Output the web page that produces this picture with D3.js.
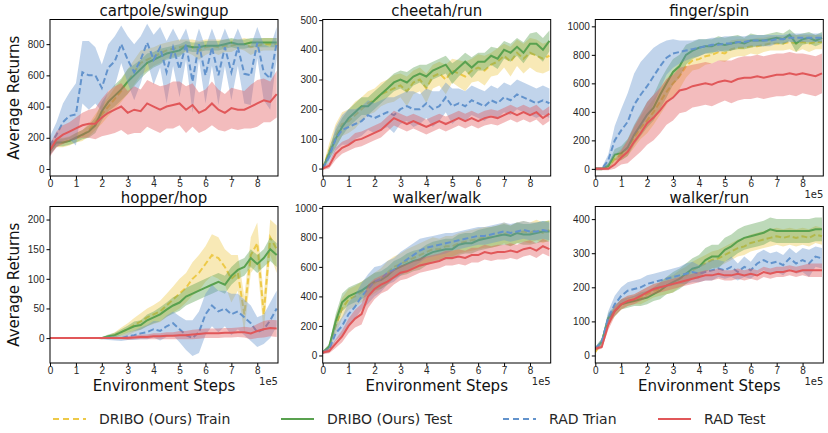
<!DOCTYPE html>
<html>
<head>
<meta charset="utf-8">
<script src="https://d3js.org/d3.v7.min.js"></script>
<style>
body { margin: 0; background: #fff; }
svg { font-family: "DejaVu Sans", sans-serif; }
.axis text { font-size: 10px; fill: #262626; }
.axis line { stroke: #000; }
.title { font-size: 15px; fill: #111; }
.label { font-size: 15px; fill: #111; }
.offset { font-size: 10px; fill: #262626; }
.legend text { font-size: 14px; fill: #262626; }
</style>
</head>
<body>
<svg width="828" height="433"></svg>
<script>
// environment steps, in units of 1e5
var steps = d3.range(0, 8.76, 0.25);

var xTicks = [0, 1, 2, 3, 4, 5, 6, 7, 8];

var seriesNames = ["DRIBO (Ours) Train", "DRIBO (Ours) Test", "RAD Trian", "RAD Test"];
var seriesColors = ["#edc948", "#59a14f", "#6393cc", "#e15759"];
var seriesDashed = [true, false, true, false];

var titles = ["cartpole/swingup", "cheetah/run", "finger/spin", "hopper/hop", "walker/walk", "walker/run"];

// cartpole/swingup
var cartpoleTicks = [0, 200, 400, 600, 800];
var cartpoleDriboTrain = [130,170,170,180,200,215,250,300,350,400,450,500,560,620,680,700,720,740,760,770,780,790,780,760,780,790,780,790,790,800,800,780,790,800,800,800];
var cartpoleDriboTrainSd = [30,30,30,30,30,35,40,50,60,60,70,70,80,80,80,70,60,60,50,50,50,40,50,60,50,40,50,40,40,30,40,50,40,40,40,40];
var cartpoleDriboTest = [120,170,170,180,200,220,240,280,370,430,470,510,560,600,640,680,700,720,740,750,760,790,780,780,790,790,790,800,810,800,800,810,810,810,810,810];
var cartpoleDriboTestSd = [30,25,25,25,30,30,40,50,60,60,70,70,80,70,60,60,50,50,40,40,40,30,30,30,30,30,30,30,30,30,30,30,30,30,30,30];
var cartpoleRadTrain = [150,220,300,340,350,620,600,600,520,650,690,800,700,620,700,810,700,780,620,780,640,800,560,800,600,780,600,780,620,780,610,600,810,620,580,810];
var cartpoleRadTrainSd = [60,80,120,150,200,200,220,180,150,150,160,120,150,180,150,120,160,130,200,120,180,100,200,100,180,120,190,120,180,120,190,190,100,180,200,100];
var cartpoleRadTest = [120,190,220,240,260,280,290,290,330,360,380,400,360,380,370,420,400,380,400,410,420,380,410,360,380,420,380,360,390,380,380,400,420,440,430,480];
var cartpoleRadTestSd = [40,50,60,60,70,80,90,100,120,140,150,150,140,150,140,150,150,150,140,150,140,150,140,130,130,140,130,120,130,130,120,140,150,140,130,150];

// cheetah/run
var cheetahTicks = [0, 100, 200, 300, 400, 500];
var cheetahDriboTrain = [0,60,110,150,160,180,200,220,230,250,260,270,280,260,290,300,270,310,320,300,330,320,310,330,340,330,350,360,380,360,390,370,390,380,370,380];
var cheetahDriboTrainSd = [5,25,40,40,40,45,40,40,40,40,40,45,40,50,40,40,50,40,40,50,40,45,50,40,45,50,40,45,40,50,45,50,50,55,50,50];
var cheetahDriboTest = [0,50,100,140,170,190,210,210,230,250,270,290,300,290,310,320,310,330,340,350,320,340,360,340,360,360,380,370,400,390,410,390,420,420,400,430];
var cheetahDriboTestSd = [5,20,30,30,30,30,30,30,30,30,30,30,30,35,30,30,40,30,30,30,35,30,30,35,30,30,30,35,30,30,30,35,35,40,40,35];
var cheetahRadTrain = [0,40,100,130,140,150,160,180,170,180,190,180,200,210,200,200,220,200,210,240,210,220,210,230,220,210,230,220,240,230,250,240,230,220,230,220];
var cheetahRadTrainSd = [5,20,40,50,60,50,50,50,50,50,50,60,50,50,60,50,50,60,50,50,60,50,50,50,50,50,50,50,50,50,50,50,50,50,50,50];
var cheetahRadTest = [0,10,50,70,80,95,100,110,120,130,150,170,160,150,160,150,140,150,160,150,160,170,160,170,160,170,175,170,180,190,180,190,180,190,170,185];
var cheetahRadTestSd = [5,10,20,20,20,25,25,25,25,25,25,25,25,25,25,25,25,25,25,25,25,25,25,25,25,25,25,25,25,25,25,25,25,25,25,25];

// finger/spin
var fingerTicks = [0, 200, 400, 600, 800, 1000];
var fingerDriboTrain = [0,0,20,70,100,150,220,290,340,400,470,540,600,650,720,760,770,790,800,820,810,840,850,850,860,860,870,880,880,880,890,880,890,880,890,890];
var fingerDriboTrainSd = [10,10,20,30,40,60,70,80,90,90,90,90,90,90,80,70,70,60,60,60,60,60,60,60,50,60,50,50,50,50,50,60,50,60,50,50];
var fingerDriboTest = [0,0,20,100,110,150,240,310,380,430,520,600,680,720,800,830,850,860,860,880,870,880,890,880,900,900,900,910,920,910,940,880,910,920,900,920];
var fingerDriboTestSd = [10,10,20,40,50,60,70,80,90,90,100,100,90,80,70,60,60,50,50,50,50,50,50,40,50,40,40,40,40,40,40,60,40,40,40,40];
var fingerRadTrain = [0,0,60,200,270,330,450,520,580,650,720,780,810,820,830,840,850,860,870,870,880,880,890,890,900,900,900,900,910,910,920,920,920,920,920,920];
var fingerRadTrainSd = [10,10,40,100,150,200,220,230,220,200,160,120,100,80,70,60,60,50,50,50,50,50,40,40,40,40,40,40,30,30,30,30,30,30,30,30];
var fingerRadTest = [0,0,0,30,80,120,190,250,320,360,410,470,500,550,560,580,590,600,590,610,620,610,630,640,640,650,640,650,660,660,670,660,670,660,650,670];
var fingerRadTestSd = [10,10,10,30,50,80,110,130,150,160,160,160,160,160,160,150,150,150,150,150,140,150,150,150,150,150,150,150,150,150,150,150,140,140,140,140];

// hopper/hop
var hopperTicks = [0, 50, 100, 150, 200];
var hopperDriboTrain = [0,0,0,0,0,0,0,0,0,2,5,10,15,22,28,35,40,45,55,65,75,85,100,110,125,140,135,120,100,110,40,140,160,40,170,150];
var hopperDriboTrainSd = [1,1,1,1,1,1,1,1,2,3,5,8,10,12,14,15,16,18,20,22,25,25,28,30,30,35,35,30,40,30,30,30,35,30,30,40];
var hopperDriboTest = [0,0,0,0,0,0,0,0,0,3,5,10,15,20,22,30,35,40,48,55,60,70,75,80,85,90,95,90,105,115,120,135,125,135,150,140];
var hopperDriboTestSd = [1,1,1,1,1,1,1,1,2,3,4,5,6,8,8,10,10,12,12,14,14,15,15,15,15,15,15,15,15,15,15,15,15,15,20,20];
var hopperRadTrain = [0,0,0,0,0,0,0,0,0,0,0,0,3,5,8,10,15,12,20,25,15,5,0,10,40,55,45,50,40,45,35,25,10,15,30,50];
var hopperRadTrainSd = [1,1,1,1,1,1,1,1,2,3,4,5,6,8,10,12,14,16,18,20,22,25,30,35,35,35,35,30,35,30,30,30,25,25,30,30];
var hopperRadTest = [0,0,0,0,0,0,0,0,0,0,0,0,0,1,2,2,3,3,4,4,5,5,6,7,8,8,8,9,9,10,10,8,12,15,17,16];
var hopperRadTestSd = [1,1,1,1,1,1,1,1,1,1,2,2,3,3,4,4,5,5,6,6,7,7,8,8,8,8,8,8,8,8,9,10,12,14,14,14];

// walker/walk
var walkTicks = [0, 200, 400, 600, 800, 1000];
var walkDriboTrain = [20,50,200,320,380,400,430,460,490,520,560,600,620,640,660,680,700,720,720,740,740,760,770,780,790,800,800,810,830,810,830,840,830,850,830,850];
var walkDriboTrainSd = [10,20,60,70,70,70,70,70,70,70,80,70,70,80,80,80,80,80,70,70,70,70,70,70,70,70,70,70,70,70,70,70,70,70,70,70];
var walkDriboTest = [20,60,230,360,400,420,440,470,500,510,540,580,600,620,640,650,680,700,710,720,720,750,760,760,780,790,800,810,820,810,830,820,820,830,840,840];
var walkDriboTestSd = [10,20,50,60,60,60,60,60,60,60,60,60,60,70,70,70,70,70,70,70,70,70,70,70,70,70,70,70,70,70,70,70,70,70,70,70];
var walkRadTrain = [20,40,150,200,280,330,400,450,500,520,560,580,620,650,680,710,730,740,750,760,770,780,790,800,810,810,820,830,840,830,840,850,840,840,850,840];
var walkRadTrainSd = [10,20,50,60,80,80,90,100,100,90,80,80,80,80,80,80,70,70,70,70,60,60,60,60,60,60,60,60,60,60,60,60,60,60,60,60];
var walkRadTest = [20,30,80,130,200,250,280,400,450,480,500,530,560,570,590,610,620,630,640,660,660,670,660,680,680,700,690,700,700,710,700,720,730,710,740,720];
var walkRadTestSd = [10,15,30,40,50,60,70,80,70,60,60,50,50,50,50,50,50,50,50,50,50,50,50,50,50,50,50,50,50,50,50,50,50,50,50,50];

// walker/run
var runTicks = [0, 100, 200, 300, 400];
var runDriboTrain = [10,40,100,130,150,160,165,170,180,190,195,205,210,225,235,250,260,270,280,285,295,305,315,320,330,335,340,345,350,345,350,345,350,345,355,350];
var runDriboTrainSd = [5,10,15,15,15,15,15,20,20,20,20,25,25,25,25,25,25,25,25,25,25,25,25,25,25,25,25,25,25,25,25,25,25,25,25,25];
var runDriboTest = [20,40,110,130,150,155,160,165,170,180,190,205,215,225,240,255,260,280,290,290,310,320,335,345,350,355,360,370,365,365,365,365,365,365,370,370];
var runDriboTestSd = [5,10,15,15,15,15,15,20,20,20,25,25,30,30,30,30,35,35,35,35,35,35,35,35,35,35,35,35,35,35,35,35,35,35,35,35];
var runRadTrain = [20,40,110,150,175,190,195,200,210,215,220,225,230,235,240,245,240,245,250,255,250,260,245,260,250,270,280,270,275,265,285,270,280,270,290,285];
var runRadTrainSd = [5,10,20,25,25,25,25,25,25,25,25,25,25,25,30,30,25,25,30,25,25,30,25,30,25,30,30,30,30,30,30,30,35,40,30,30];
var runRadTest = [20,25,90,130,150,160,165,175,185,195,200,205,210,215,220,225,230,235,235,240,235,235,240,235,240,235,245,240,245,245,250,245,250,250,250,250];
var runRadTestSd = [5,5,15,15,15,15,15,15,15,15,15,15,15,15,15,15,15,15,15,15,15,15,15,15,15,15,15,15,15,15,15,15,15,20,20,20];

var panels = [
  { title: titles[0], ticks: cartpoleTicks, domain: [-45, 958],
    means: [cartpoleDriboTrain, cartpoleDriboTest, cartpoleRadTrain, cartpoleRadTest],
    sds: [cartpoleDriboTrainSd, cartpoleDriboTestSd, cartpoleRadTrainSd, cartpoleRadTestSd] },
  { title: titles[1], ticks: cheetahTicks, domain: [-25, 502],
    means: [cheetahDriboTrain, cheetahDriboTest, cheetahRadTrain, cheetahRadTest],
    sds: [cheetahDriboTrainSd, cheetahDriboTestSd, cheetahRadTrainSd, cheetahRadTestSd] },
  { title: titles[2], ticks: fingerTicks, domain: [-50, 1048],
    means: [fingerDriboTrain, fingerDriboTest, fingerRadTrain, fingerRadTest],
    sds: [fingerDriboTrainSd, fingerDriboTestSd, fingerRadTrainSd, fingerRadTestSd] },
  { title: titles[3], ticks: hopperTicks, domain: [-42, 222],
    means: [hopperDriboTrain, hopperDriboTest, hopperRadTrain, hopperRadTest],
    sds: [hopperDriboTrainSd, hopperDriboTestSd, hopperRadTrainSd, hopperRadTestSd] },
  { title: titles[4], ticks: walkTicks, domain: [-51, 1009],
    means: [walkDriboTrain, walkDriboTest, walkRadTrain, walkRadTest],
    sds: [walkDriboTrainSd, walkDriboTestSd, walkRadTrainSd, walkRadTestSd] },
  { title: titles[5], ticks: runTicks, domain: [-22, 437],
    means: [runDriboTrain, runDriboTest, runRadTrain, runRadTest],
    sds: [runDriboTrainSd, runDriboTestSd, runRadTrainSd, runRadTestSd] }
];

var svg = d3.select("svg");

// grid of subplots
var colLeft = [50, 322.7, 595.3];
var rowTop = [19.5, 206.5];
var plotW = 228;
var plotH = 156.5;

var x = d3.scaleLinear().domain([0, 8.8]).range([0, plotW]);

panels.forEach(function(p, i) {
  var col = i % 3;
  var row = Math.floor(i / 3);
  var g = svg.append("g").attr("transform", translate(colLeft[col], rowTop[row]));

  var y = d3.scaleLinear().domain(p.domain).range([plotH, 0]);

  g.append("clipPath").attr("id", "clip" + i)
    .append("rect").attr("width", plotW).attr("height", plotH);

  var plot = g.append("g").attr("clip-path", "url(#clip" + i + ")");

  p.means.forEach(function(m, k) {
    var sd = p.sds[k];
    var pts = steps.map(function(s, j) { return { x: s, m: m[j], sd: sd[j] }; });

    var area = d3.area()
      .x(function(d) { return x(d.x); })
      .y0(function(d) { return y(d.m - d.sd); })
      .y1(function(d) { return y(d.m + d.sd); });

    var line = d3.line()
      .x(function(d) { return x(d.x); })
      .y(function(d) { return y(d.m); });

    plot.append("path")
      .datum(pts)
      .attr("d", area)
      .attr("fill", seriesColors[k])
      .attr("fill-opacity", 0.4);

    plot.append("path")
      .datum(pts)
      .attr("d", line)
      .attr("fill", "none")
      .attr("stroke", seriesColors[k])
      .attr("stroke-width", 2)
      .attr("stroke-dasharray", seriesDashed[k] ? "6,3" : null);
  });

  // axes
  var yAxis = g.append("g").attr("class", "axis")
    .call(d3.axisLeft(y).tickValues(p.ticks).tickFormat(d3.format("d")).tickSize(3.5).tickPadding(2));
  yAxis.select(".domain").remove();

  var xAxis = g.append("g").attr("class", "axis")
    .attr("transform", translate(0, plotH))
    .call(d3.axisBottom(x).tickValues(xTicks).tickFormat(d3.format("d")).tickSize(3.5).tickPadding(0.5));
  xAxis.select(".domain").remove();

  g.append("rect")
    .attr("width", plotW)
    .attr("height", plotH)
    .attr("fill", "none")
    .attr("stroke", "#000")
    .attr("stroke-width", 1);

  g.append("text").attr("class", "title")
    .attr("x", plotW / 2)
    .attr("y", -4)
    .attr("text-anchor", "middle")
    .text(p.title);

  // scientific offset label
  if (row === 1 || col === 2) {
    g.append("text").attr("class", "offset")
      .attr("x", plotW)
      .attr("y", plotH + 21.5)
      .attr("text-anchor", "end")
      .text("1e5");
  }

  if (col === 0) {
    g.append("text").attr("class", "label")
      .attr("transform", translate(-31, plotH / 2) + " rotate(-90)")
      .attr("text-anchor", "middle")
      .text("Average Returns");
  }

  if (row === 1) {
    g.append("text").attr("class", "label")
      .attr("x", plotW / 2)
      .attr("y", plotH + 27.5)
      .attr("text-anchor", "middle")
      .text("Environment Steps");
  }
});

// legend
var legendX = [53, 281, 503, 658];
var legend = svg.append("g").attr("class", "legend").attr("transform", translate(0, 419));

seriesNames.forEach(function(name, k) {
  legend.append("line")
    .attr("x1", legendX[k])
    .attr("x2", legendX[k] + 33)
    .attr("stroke", seriesColors[k])
    .attr("stroke-width", 2)
    .attr("stroke-dasharray", seriesDashed[k] ? "6,4" : null);
  legend.append("text")
    .attr("x", legendX[k] + 46)
    .attr("dy", "0.35em")
    .text(name);
});

function translate(x, y) {
  return "translate(" + String(x) + "," + String(y) + ")";
}
</script>
</body>
</html>
